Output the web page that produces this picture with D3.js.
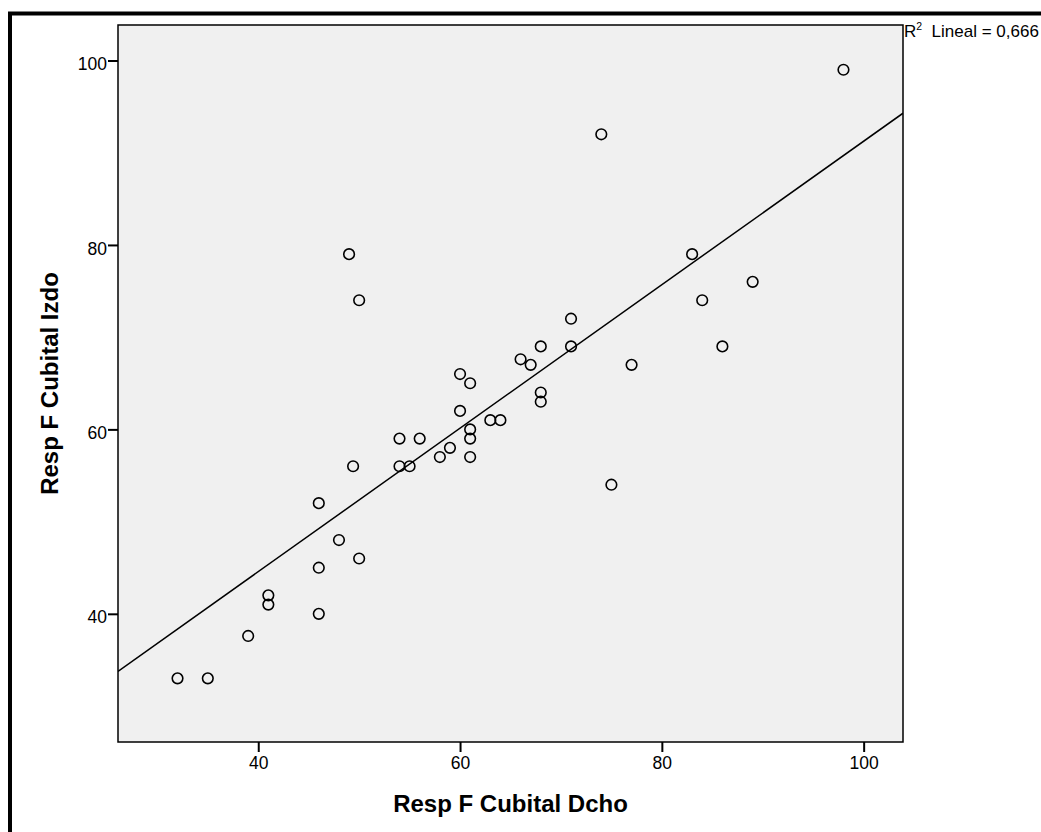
<!DOCTYPE html>
<html>
<head>
<meta charset="utf-8">
<script src="https://cdn.jsdelivr.net/npm/d3@7"></script>
<style>
  html, body { margin: 0; padding: 0; background: #fff; }
  svg { display: block; font-family: Arial, "Liberation Sans", sans-serif; }
</style>
</head>
<body>
<svg id="chart" width="1041" height="832"></svg>
<script>
// Data
const dchoValues = [98, 74, 49, 83, 50, 84, 89, 71, 68, 71, 86, 66, 67, 77, 60, 61, 68, 68, 60, 63, 64, 61,
                    54, 56, 61, 59, 58, 61, 49.4, 54, 55, 75, 46, 48, 46, 50, 41, 41, 46, 39, 32, 35];
const izdoValues = [99, 92, 79, 79, 74, 74, 76, 72, 69, 69, 69, 67.6, 67, 67, 66, 65, 64, 63, 62, 61, 61, 60,
                    59, 59, 59, 58, 57, 57, 56, 56, 56, 54, 52, 48, 45, 46, 42, 41, 40, 37.6, 33, 33];
const fitLine = [13.45, 0.778];           // intercept, slope
const xTicks = [40, 60, 80, 100];
const yTicks = [40, 60, 80, 100];
const xDomain = [26.1, 103.9];
const yDomain = [26.1, 103.85];
const xTitle = "Resp F Cubital Dcho";
const yTitle = "Resp F Cubital Izdo";
const r2Text = ["R", "2", "  Lineal = 0,666"];

const svg = d3.select("#chart");
const plot = { left: 118, top: 25, right: 903, bottom: 742 };

// outer frame (left and top thick borders)
svg.append("line").attr("x1", 10).attr("x2", 10).attr("y1", 12).attr("y2", 832)
  .attr("stroke", "#000").attr("stroke-width", 4);
svg.append("line").attr("x1", 8).attr("x2", 1041).attr("y1", 13.5).attr("y2", 13.5)
  .attr("stroke", "#000").attr("stroke-width", 4);

const x = d3.scaleLinear().domain(xDomain).range([plot.left, plot.right]);
const y = d3.scaleLinear().domain(yDomain).range([plot.bottom, plot.top]);

// plot background
svg.append("rect")
  .attr("x", plot.left).attr("y", plot.top)
  .attr("width", plot.right - plot.left).attr("height", plot.bottom - plot.top)
  .attr("fill", "#f0f0f0");

svg.append("clipPath").attr("id", "clip").append("rect")
  .attr("x", plot.left).attr("y", plot.top)
  .attr("width", plot.right - plot.left).attr("height", plot.bottom - plot.top);

// regression line
const fx = d => fitLine[0] + fitLine[1] * d;
svg.append("line")
  .attr("clip-path", "url(#clip)")
  .attr("x1", x(xDomain[0])).attr("y1", y(fx(xDomain[0])))
  .attr("x2", x(xDomain[1])).attr("y2", y(fx(xDomain[1])))
  .attr("stroke", "#000").attr("stroke-width", 1.5);

// points
svg.append("g").selectAll("circle")
  .data(dchoValues.map((d, i) => [d, izdoValues[i]]))
  .join("circle")
  .attr("cx", d => x(d[0])).attr("cy", d => y(d[1]))
  .attr("r", 5.3)
  .attr("fill", "none").attr("stroke", "#000").attr("stroke-width", 1.6);

// plot border
svg.append("rect")
  .attr("x", plot.left).attr("y", plot.top)
  .attr("width", plot.right - plot.left).attr("height", plot.bottom - plot.top)
  .attr("fill", "none").attr("stroke", "#000").attr("stroke-width", 1.5);

// x axis
const xAxis = d3.axisBottom(x).tickValues(xTicks).tickSize(10).tickSizeOuter(0).tickPadding(5);
const gx = svg.append("g").attr("transform", `translate(0,${plot.bottom})`).call(xAxis);
gx.attr("font-size", null).attr("font-family", null);
gx.select(".domain").remove();
gx.selectAll(".tick line").attr("stroke", "#000").attr("stroke-width", 2);
gx.selectAll(".tick text").style("font-size", "17.5px").attr("fill", "#000")
  .style("font-family", "Arial, 'Liberation Sans', sans-serif");

// y axis
const yAxis = d3.axisLeft(y).tickValues(yTicks).tickSize(10).tickSizeOuter(0).tickPadding(1);
const gy = svg.append("g").attr("transform", `translate(${plot.left},0)`).call(yAxis);
gy.attr("font-size", null).attr("font-family", null);
gy.select(".domain").remove();
gy.selectAll(".tick line").attr("stroke", "#000").attr("stroke-width", 2);
gy.selectAll(".tick text").style("font-size", "17.5px").attr("fill", "#000")
  .attr("dy", "0.52em")
  .style("font-family", "Arial, 'Liberation Sans', sans-serif");

// axis titles
svg.append("text")
  .attr("x", (plot.left + plot.right) / 2).attr("y", 812)
  .attr("text-anchor", "middle").attr("font-weight", "bold").attr("font-size", 24)
  .text(xTitle);
svg.append("text")
  .attr("transform", `translate(58,${(plot.top + plot.bottom) / 2}) rotate(-90)`)
  .attr("text-anchor", "middle").attr("font-weight", "bold").attr("font-size", 24)
  .text(yTitle);

// R² annotation
const rt = svg.append("text").attr("x", 904).attr("y", 37).attr("font-size", 17)
  .attr("xml:space", "preserve").style("white-space", "pre");
rt.append("tspan").text(r2Text[0]);
rt.append("tspan").attr("font-size", 10.5).attr("dy", -7).text(r2Text[1]);
rt.append("tspan").attr("dy", 7).text(r2Text[2]);
</script>
</body>
</html>
